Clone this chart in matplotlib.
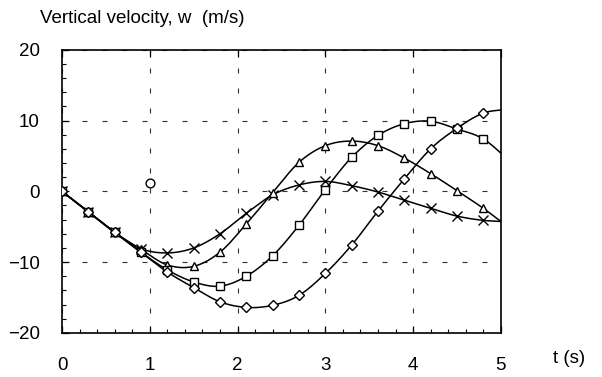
import numpy as np
import matplotlib
matplotlib.use('Agg')
import matplotlib.pyplot as plt
from matplotlib.ticker import MultipleLocator

plt.rcParams['font.family'] = ['Liberation Sans', 'DejaVu Sans']
plt.rcParams['lines.scale_dashes'] = False

# time samples (last one lies beyond the axis, only the line shows)
t = [0.0, 0.3, 0.6, 0.9, 1.2, 1.5, 1.8, 2.1, 2.4, 2.7, 3.0, 3.3, 3.6, 3.9, 4.2, 4.5, 4.8, 5.1]

w_cross = [0, -2.9, -5.8, -8.1, -8.7, -8.0, -6.0, -3.1, -0.5, 0.9, 1.4, 0.8, -0.1, -1.25, -2.4, -3.5, -4.1, -4.3]
w_tri = [0, -2.9, -5.8, -8.2, -10.4, -10.6, -8.6, -4.6, -0.2, 4.1, 6.45, 7.1, 6.45, 4.7, 2.5, 0.1, -2.4, -5.2]
w_square = [0, -2.9, -5.8, -8.6, -11.1, -12.8, -13.4, -12.0, -9.1, -4.8, 0.25, 4.8, 7.9, 9.55, 9.9, 8.8, 7.4, 4.3]
w_diamond = [0, -2.9, -5.8, -8.6, -11.4, -13.6, -15.6, -16.4, -16.1, -14.7, -11.6, -7.6, -2.8, 1.75, 6.0, 8.9, 11.05, 11.6]

circle_t = [1.0]
circle_w = [1.15]

x_ticks = [0, 1, 2, 3, 4, 5]
y_ticks = [-20, -10, 0, 10, 20]


def smooth(x, y, n=20):
    # catmull-rom curve through the points, like a spreadsheet "smoothed line"
    x = np.asarray(x, float)
    y = np.asarray(y, float)
    px = np.concatenate([[2 * x[0] - x[1]], x, [2 * x[-1] - x[-2]]])
    py = np.concatenate([[2 * y[0] - y[1]], y, [2 * y[-1] - y[-2]]])
    xs, ys = [], []
    s = np.linspace(0, 1, n, endpoint=False)
    for i in range(1, len(px) - 2):
        for arr, out in ((px, xs), (py, ys)):
            p0, p1, p2, p3 = arr[i - 1], arr[i], arr[i + 1], arr[i + 2]
            out.append(0.5 * (2 * p1 + (-p0 + p2) * s
                              + (2 * p0 - 5 * p1 + 4 * p2 - p3) * s ** 2
                              + (-p0 + 3 * p1 - 3 * p2 + p3) * s ** 3))
    xs.append([x[-1]])
    ys.append([y[-1]])
    return np.concatenate(xs), np.concatenate(ys)


fig = plt.figure(figsize=(6.02, 3.77), dpi=100)
ax = fig.add_axes([0.103, 0.117, 0.729, 0.751])

series = [
    (w_cross, 'x', 7),
    (w_tri, '^', 6.3),
    (w_square, 's', 6.3),
    (w_diamond, 'D', 4.8),
]
for w, m, ms in series:
    sx, sy = smooth(t, w)
    ax.plot(sx, sy, color='black', lw=1.1, zorder=3)
    ax.plot(t, w, linestyle='none', marker=m, ms=ms, mfc='white',
            mec='black', mew=1.0, zorder=4)

ax.plot(circle_t, circle_w, linestyle='none', marker='o', ms=6.3,
        mfc='white', mec='black', mew=1.0, zorder=4)

ax.set_xlim(0, 5)
ax.set_ylim(-20, 20)
ax.set_xticks(x_ticks)
ax.set_yticks(y_ticks)
ax.xaxis.set_minor_locator(MultipleLocator(0.2))
ax.yaxis.set_minor_locator(MultipleLocator(2))
ax.tick_params(which='both', direction='in', labelsize=13.5, color='black')
ax.tick_params(which='major', length=5, width=0.9, top=True)
ax.tick_params(axis='x', which='major', pad=17)
ax.tick_params(axis='y', which='major', pad=16)
ax.tick_params(which='minor', length=3, width=0.8)
ax.tick_params(axis='x', which='minor', top=False)

ax.grid(True, which='major', color='#333333', lw=0.8, linestyle=(0, (3.6, 10.8)))
for sp in ax.spines.values():
    sp.set_linewidth(1.2)

fig.text(0.066, 0.95, 'Vertical velocity, w  (m/s)', fontsize=13.5, va='center')
fig.text(0.918, 0.05, 't (s)', fontsize=13.5, va='center')

plt.savefig('out.png', dpi=100)
